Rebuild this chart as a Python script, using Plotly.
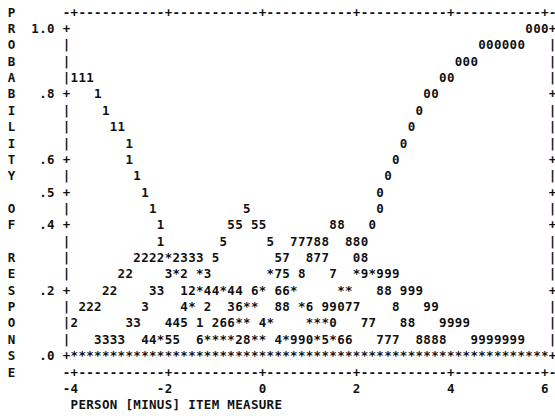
import plotly.graph_objects as go

# ---------------- data (Winsteps-style category probability curves) ----------------
Y_TITLE = "PROBABILITY OF RESPONSE"                 # vertical title, one letter per text row
Y_TICK_VALUES = [1.0, 0.8, 0.6, 0.5, 0.4, 0.2, 0.0]
Y_TICK_LABELS = ["1.0", ".8", ".6", ".5", ".4", ".2", ".0"]
X_TICK_VALUES = [-4, -2, 0, 2, 4, 6]
X_TICK_LABELS = ["-4", "-2", "0", "2", "4", "6"]
X_TITLE = "PERSON [MINUS] ITEM MEASURE"

X_MIN, X_MAX = -4.0, 6.0        # measure range of the plot
X_STEP = 1.0 / 6.0              # measure per character column
P_STEP = 0.05                   # probability per character row

# category symbols per row, from P=1.00 (top) down to P=0.05;
# each entry: (character column counted from X_MIN = column 1, symbols)
CURVE_ROWS = [
    [(59, "000")],
    [(53, "000000")],
    [(50, "000")],
    [(1, "111"), (48, "00")],
    [(4, "1"), (46, "00")],
    [(5, "1"), (45, "0")],
    [(6, "11"), (44, "0")],
    [(8, "1"), (43, "0")],
    [(8, "1"), (42, "0")],
    [(9, "1"), (41, "0")],
    [(10, "1"), (40, "0")],
    [(11, "1"), (23, "5"), (40, "0")],
    [(12, "1"), (21, "55 55"), (34, "88"), (39, "0")],
    [(12, "1"), (20, "5"), (26, "5"), (29, "77788"), (36, "880")],
    [(9, "2222*2333"), (19, "5"), (27, "57"), (31, "877"), (37, "08")],
    [(7, "22"), (13, "3*2"), (17, "*3"), (26, "*75"), (30, "8"), (34, "7"), (37, "*9*999")],
    [(5, "22"), (11, "33"), (15, "12*44*44"), (24, "6*"), (27, "66*"), (35, "**"), (40, "88"), (43, "999")],
    [(2, "222"), (10, "3"), (15, "4*"), (18, "2"), (21, "36**"), (27, "88"), (30, "*6"), (33, "99077"), (42, "8"), (46, "99")],
    [(1, "2"), (8, "33"), (13, "445"), (17, "1"), (19, "266**"), (25, "4*"), (31, "***0"), (38, "77"), (43, "88"), (48, "9999")],
    [(4, "3333"), (10, "44*55"), (17, "6****28**"), (27, "4*990*5*66"), (40, "777"), (45, "8888"), (52, "9999999")],
]
OVERLAP_ROW_P0 = "*"   # at P = .0 every category overlaps

# ---------------- build character grid through measure/probability coordinates ----------------
xs, ys, ts = [], [], []


def put(x, y, s):
    for i, ch in enumerate(s):
        if ch != " ":
            xs.append(x + i * X_STEP)
            ys.append(y)
            ts.append(ch)


n_cols = int(round((X_MAX - X_MIN) / X_STEP)) + 1          # 61
x_left = X_MIN - X_STEP                                    # border column
x_right = X_MAX + X_STEP
y_top = 1.0 + P_STEP
y_bot = 0.0 - P_STEP

# top and bottom axis lines
for yy in (y_top, y_bot):
    line = "-"
    for c in range(n_cols):
        xv = X_MIN + c * X_STEP
        line += "+" if any(abs(xv - t) < 1e-6 for t in X_TICK_VALUES) else "-"
    line += "-"
    put(x_left, yy, line)

# left / right borders
n_rows = int(round(1.0 / P_STEP)) + 1                       # 21
for r in range(n_rows):
    p = 1.0 - r * P_STEP
    is_tick = any(abs(p - t) < 1e-6 for t in Y_TICK_VALUES)
    put(x_left, p, "+" if is_tick else "|")
    put(x_right, p, "+" if is_tick else "|")

# y tick labels (right-aligned, one blank column before the border)
for v, lab in zip(Y_TICK_VALUES, Y_TICK_LABELS):
    put(x_left - (len(lab) + 1) * X_STEP, v, lab)

# vertical title
for i, ch in enumerate(Y_TITLE):
    put(x_left - 7 * X_STEP, y_top - i * P_STEP, ch)

# x tick labels (last character under the tick)
for v, lab in zip(X_TICK_VALUES, X_TICK_LABELS):
    put(v - (len(lab) - 1) * X_STEP, y_bot - P_STEP, lab)

# x title
put(X_MIN, y_bot - 2 * P_STEP, X_TITLE)

# curves
for r, segs in enumerate(CURVE_ROWS):
    p = 1.0 - r * P_STEP
    for col, s in segs:
        put(X_MIN + (col - 1) * X_STEP, p, s)
put(X_MIN, 0.0, OVERLAP_ROW_P0 * n_cols)

# ---------------- figure ----------------
W, H = 555, 416
# pixel placement of the character grid
PX_PER_MEASURE = 47.04
PX_AT_XMIN = 74.34
PX_PER_PROB = 327.2
PX_AT_P0 = 357.06

x_range = [X_MIN - PX_AT_XMIN / PX_PER_MEASURE, X_MIN + (W - PX_AT_XMIN) / PX_PER_MEASURE]
y_range = [(PX_AT_P0 - H) / PX_PER_PROB, PX_AT_P0 / PX_PER_PROB]

fig = go.Figure(go.Scatter(
    x=xs, y=ys, text=ts, mode="text", textposition="middle center",
    textfont=dict(family="DejaVu Sans Mono", size=12.5, color="#111111", weight="bold"),
    hoverinfo="skip", showlegend=False,
))
fig.update_layout(
    width=W, height=H, margin=dict(l=0, r=0, t=0, b=0),
    paper_bgcolor="white", plot_bgcolor="white",
    xaxis=dict(range=x_range, visible=False, fixedrange=True),
    yaxis=dict(range=y_range, visible=False, fixedrange=True),
)
fig.write_html("out.html", config={"displayModeBar": False},
               post_script="document.body.style.margin='0';")
